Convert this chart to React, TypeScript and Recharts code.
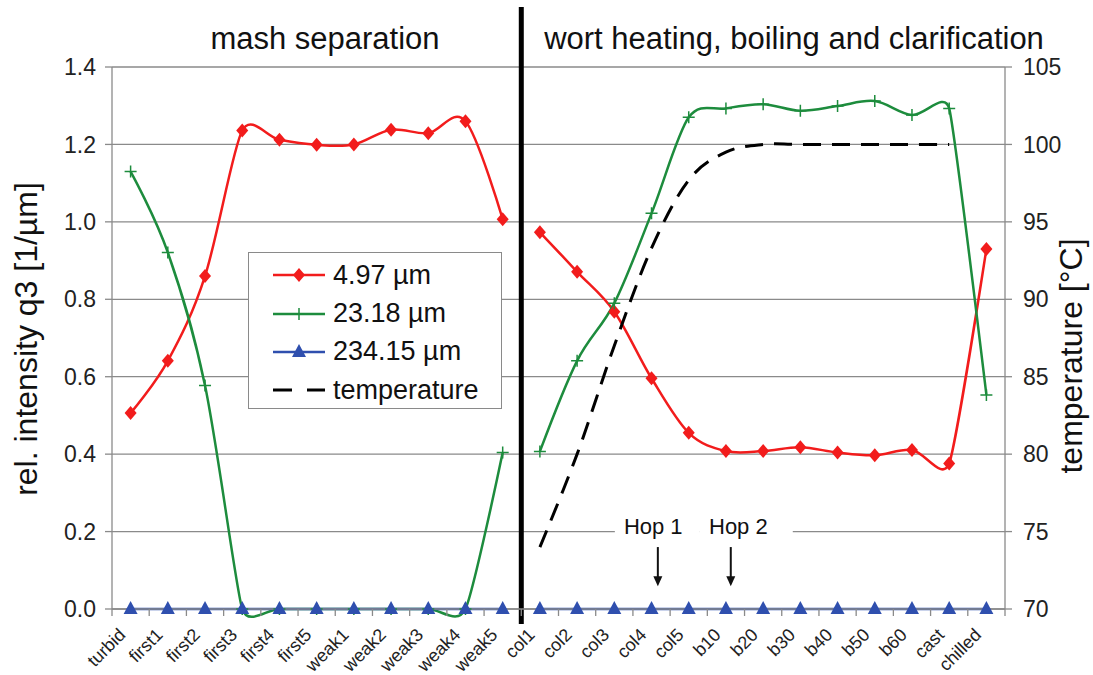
import React from "react";
import {
  LineChart,
  Line,
  XAxis,
  YAxis,
  CartesianGrid,
  ReferenceLine,
  Legend,
} from "recharts";

// sampling points (mash separation, then wort heating / boiling / clarification)
const categories = [
  "turbid", "first1", "first2", "first3", "first4", "first5",
  "weak1", "weak2", "weak3", "weak4", "weak5",
  "col1", "col2", "col3", "col4", "col5",
  "b10", "b20", "b30", "b40", "b50", "b60", "cast", "chilled",
];

// rel. intensity q3 [1/µm]
const fine = [
  0.506, 0.641, 0.86, 1.236, 1.212, 1.199, 1.2, 1.238, 1.229, 1.26, 1.007,
  0.973, 0.871, 0.768, 0.596, 0.455, 0.408, 0.408, 0.418, 0.404, 0.397, 0.411, 0.376, 0.93,
];
const medium = [
  1.13, 0.921, 0.577, 0, 0, 0, 0, 0, 0, 0, 0.404,
  0.407, 0.641, 0.79, 1.022, 1.27, 1.293, 1.304, 1.287, 1.299, 1.312, 1.276, 1.293, 0.553,
];
const coarse = [
  0, 0, 0, 0, 0, 0, 0, 0, 0, 0, 0,
  0, 0, 0, 0, 0, 0, 0, 0, 0, 0, 0, 0, 0,
];
// temperature [°C], only measured during wort heating
const temperature = [
  null, null, null, null, null, null, null, null, null, null, null,
  74, 80, 87, 93.3, 97.7, 99.5, 100, 100, 100, 100, 100, 100, null,
];

const leftTicks = [0, 0.2, 0.4, 0.6, 0.8, 1.0, 1.2, 1.4];
const rightTicks = [70, 75, 80, 85, 90, 95, 100, 105];

const lastMash = categories.indexOf("weak5");

const rows = categories.map((name, i) => ({
  idx: i,
  name,
  fineA: i <= lastMash ? fine[i] : null,
  fineB: i > lastMash ? fine[i] : null,
  mediumA: i <= lastMash ? medium[i] : null,
  mediumB: i > lastMash ? medium[i] : null,
  coarseA: i <= lastMash ? coarse[i] : null,
  coarseB: i > lastMash ? coarse[i] : null,
  temp: temperature[i],
}));

const xTicks = categories
  .flatMap((_, i) => [i - 0.5, i])
  .concat(categories.length - 0.5);

const FONT = '"Liberation Sans", Arial, Helvetica, sans-serif';
const RED = "#f21c1c";
const GREEN = "#1d8c3d";
const BLUE = "#2f4fae";
const GRID = "#8a8a8a";

// Excel-style smoothing: bezier handles of 1/6 of the neighbour chord,
// shortened to half the shorter adjacent segment when that is smaller
const excelSmooth = (context: any) => {
  let pts: number[][] = [];
  const dist = (a: number[], b: number[]) => Math.hypot(b[0] - a[0], b[1] - a[1]);
  const handle = (p0: number[], p1: number[], p2: number[]) => {
    const tx = p2[0] - p0[0];
    const ty = p2[1] - p0[1];
    const d02 = Math.hypot(tx, ty);
    const d01 = dist(p0, p1);
    const d12 = dist(p1, p2);
    let f = 1 / 6;
    if (d02 === 0) f = 0;
    else if (!(d02 / 6 < d01 / 2 && d02 / 6 < d12 / 2)) f = Math.min(d01, d12) / (2 * d02);
    return [tx * f, ty * f];
  };
  return {
    areaStart() {},
    areaEnd() {},
    lineStart() {
      pts = [];
    },
    point(x: number, y: number) {
      pts.push([+x, +y]);
    },
    lineEnd() {
      const n = pts.length;
      if (!n) return;
      context.moveTo(pts[0][0], pts[0][1]);
      if (n === 1) {
        context.lineTo(pts[0][0], pts[0][1]);
        return;
      }
      const h = pts.map((p, i) =>
        i === 0 || i === n - 1 ? [0, 0] : handle(pts[i - 1], p, pts[i + 1])
      );
      for (let i = 0; i < n - 1; i++) {
        const p1 = pts[i];
        const p2 = pts[i + 1];
        context.bezierCurveTo(
          p1[0] + h[i][0],
          p1[1] + h[i][1],
          p2[0] - h[i + 1][0],
          p2[1] - h[i + 1][1],
          p2[0],
          p2[1]
        );
      }
    },
  };
};

function Marker({ kind, cx, cy, color }: any) {
  if (kind === "diamond")
    return (
      <polygon
        points={`${cx},${cy - 7} ${cx + 6},${cy} ${cx},${cy + 7} ${cx - 6},${cy}`}
        fill={color}
      />
    );
  if (kind === "plus")
    return (
      <path
        d={`M${cx - 6},${cy}H${cx + 6}M${cx},${cy - 6}V${cy + 6}`}
        stroke={color}
        strokeWidth={1.5}
      />
    );
  return (
    <polygon
      points={`${cx},${cy - 8} ${cx + 7},${cy + 5} ${cx - 7},${cy + 5}`}
      fill={color}
    />
  );
}

const dotFor = (kind: string, color: string) => (props: any) => {
  const { cx, cy, value, index } = props;
  if (value == null || cx == null || cy == null) return <g key={index} />;
  return (
    <g key={index}>
      <Marker kind={kind} cx={cx} cy={cy} color={color} />
    </g>
  );
};

const series = [
  { key: "fine", name: "4.97 µm", color: RED, marker: "diamond" },
  { key: "medium", name: "23.18 µm", color: GREEN, marker: "plus" },
  { key: "coarse", name: "234.15 µm", color: BLUE, marker: "triangle" },
];

// labels sit at category centres, short tick marks on the category borders
const renderCategoryTick = (props: any) => {
  const { x, y, payload, index } = props;
  const v = payload.value;
  if (Math.abs(v - Math.round(v)) > 0.01) {
    return (
      <line key={index} x1={x} x2={x} y1={y} y2={y + 7} stroke={GRID} strokeWidth={1.3} />
    );
  }
  const ax = x - 4;
  const ay = y + 27;
  return (
    <text
      key={index}
      transform={`translate(${ax}, ${ay}) rotate(-45)`}
      textAnchor="end"
      fontSize={18}
      fontFamily={FONT}
      fill="#222"
    >
      {categories[Math.round(v)]}
    </text>
  );
};

const dividerShape = (p: any) => (
  <line
    x1={p.x1}
    x2={p.x2}
    y1={Math.min(p.y1, p.y2) - 60}
    y2={Math.max(p.y1, p.y2) + 15}
    stroke="#000"
    strokeWidth={5}
  />
);

const hopShape =
  (label: string, textDx: number, padLeft: number, padRight: number) => (p: any) => {
    const x = p.x1;
    const top = Math.min(p.y1, p.y2);
    const tip = Math.max(p.y1, p.y2);
    return (
      <g>
        <rect x={x - padLeft} y={top - 26} width={padLeft + padRight} height={14} fill="#fff" />
        <text
          x={x + textDx}
          y={top - 13}
          textAnchor="middle"
          fontSize={22}
          fontFamily={FONT}
          fill="#111"
        >
          {label}
        </text>
        <line x1={x} x2={x} y1={top} y2={tip - 9} stroke="#111" strokeWidth={2} />
        <polygon points={`${x - 4.5},${tip - 10} ${x + 4.5},${tip - 10} ${x},${tip}`} fill="#111" />
      </g>
    );
  };

function LegendBox() {
  const items = [
    ...series.map((s) => ({ name: s.name, color: s.color, marker: s.marker, dash: undefined })),
    { name: "temperature", color: "#000", marker: "", dash: "19 15" },
  ];
  return (
    <div
      style={{
        width: 254,
        height: 157,
        boxSizing: "border-box",
        border: `1.5px solid ${GRID}`,
        background: "#fff",
        padding: "3px 0 0 22px",
        fontFamily: FONT,
      }}
    >
      {items.map((it) => (
        <div
          key={it.name}
          style={{ display: "flex", alignItems: "center", height: 38.4 }}
        >
          <svg width={56} height={20} style={{ marginRight: 6 }}>
            <line
              x1={2}
              x2={54}
              y1={10}
              y2={10}
              stroke={it.color}
              strokeWidth={it.dash ? 3 : 2.5}
              strokeDasharray={it.dash}
            />
            {it.marker && <Marker kind={it.marker} cx={28} cy={10} color={it.color} />}
          </svg>
          <span style={{ fontSize: 27, color: "#111", lineHeight: 1 }}>{it.name}</span>
        </div>
      ))}
    </div>
  );
}

export default function App() {
  return (
    <div
      style={{
        position: "absolute",
        left: 0,
        top: 0,
        width: 1093,
        height: 675,
        background: "#fff",
        fontFamily: FONT,
      }}
    >
      <LineChart
        width={1093}
        height={675}
        data={rows}
        margin={{ top: 67, right: 0, bottom: 0, left: 0 }}
      >
        <CartesianGrid yAxisId="left" vertical={false} stroke={GRID} strokeWidth={1.3} />
        <XAxis
          dataKey="idx"
          type="number"
          domain={[-0.5, categories.length - 0.5]}
          ticks={xTicks}
          interval={0}
          height={66}
          tickSize={0}
          tickMargin={0}
          tickLine={false}
          tick={renderCategoryTick}
          axisLine={{ stroke: GRID, strokeWidth: 1.3 }}
        />
        <YAxis
          yAxisId="left"
          width={112}
          domain={[0, 1.4]}
          ticks={leftTicks}
          interval={0}
          tickFormatter={(v: number) => v.toFixed(1)}
          tickSize={7}
          tickMargin={9}
          tick={{ fontSize: 23, fill: "#222", fontFamily: FONT }}
          tickLine={{ stroke: GRID, strokeWidth: 1.3 }}
          axisLine={{ stroke: GRID, strokeWidth: 1.3 }}
        />
        <YAxis
          yAxisId="right"
          orientation="right"
          width={88}
          domain={[70, 105]}
          ticks={rightTicks}
          interval={0}
          tickSize={7}
          tickMargin={11}
          tick={{ fontSize: 23, fill: "#222", fontFamily: FONT }}
          tickLine={{ stroke: GRID, strokeWidth: 1.3 }}
          axisLine={{ stroke: GRID, strokeWidth: 1.3 }}
        />
        <ReferenceLine
          yAxisId="left"
          segment={[
            { x: 14.17, y: 0.16 },
            { x: 14.17, y: 0.059 },
          ]}
          shape={hopShape("Hop 1", -4.6, 43, 42)}
        />
        <ReferenceLine
          yAxisId="left"
          segment={[
            { x: 16.13, y: 0.16 },
            { x: 16.13, y: 0.059 },
          ]}
          shape={hopShape("Hop 2", 7.6, 31, 62)}
        />
        {series.flatMap((s) =>
          ["A", "B"].map((part) => (
            <Line
              key={s.key + part}
              yAxisId="left"
              dataKey={s.key + part}
              name={s.name}
              type={excelSmooth as any}
              stroke={s.color}
              strokeWidth={2.5}
              dot={dotFor(s.marker, s.color)}
              activeDot={false}
              legendType="none"
              isAnimationActive={false}
            />
          ))
        )}
        <Line
          yAxisId="right"
          dataKey="temp"
          name="temperature"
          type={excelSmooth as any}
          stroke="#000"
          strokeWidth={3}
          strokeDasharray="18 11"
          dot={false}
          activeDot={false}
          legendType="none"
          isAnimationActive={false}
        />
        <ReferenceLine yAxisId="left" x={lastMash + 0.5} shape={dividerShape} />
        <Legend
          layout="horizontal"
          verticalAlign="middle"
          align="center"
          wrapperStyle={{ position: "absolute", left: 248, top: 252, width: 254, height: 157 }}
          content={() => <LegendBox />}
        />
      </LineChart>
      <svg
        width={1093}
        height={675}
        style={{ position: "absolute", left: 0, top: 0, pointerEvents: "none" }}
      >
        <g fontFamily={FONT} fill="#111">
          <text x={325} y={49} textAnchor="middle" fontSize={31}>
            mash separation
          </text>
          <text x={794} y={49} textAnchor="middle" fontSize={31}>
            wort heating, boiling and clarification
          </text>
          <text transform="translate(37, 339) rotate(-90)" textAnchor="middle" fontSize={32}>
            rel. intensity q3 [1/µm]
          </text>
          <text transform="translate(1082, 356) rotate(-90)" textAnchor="middle" fontSize={32}>
            temperature [°C]
          </text>
        </g>
      </svg>
    </div>
  );
}
